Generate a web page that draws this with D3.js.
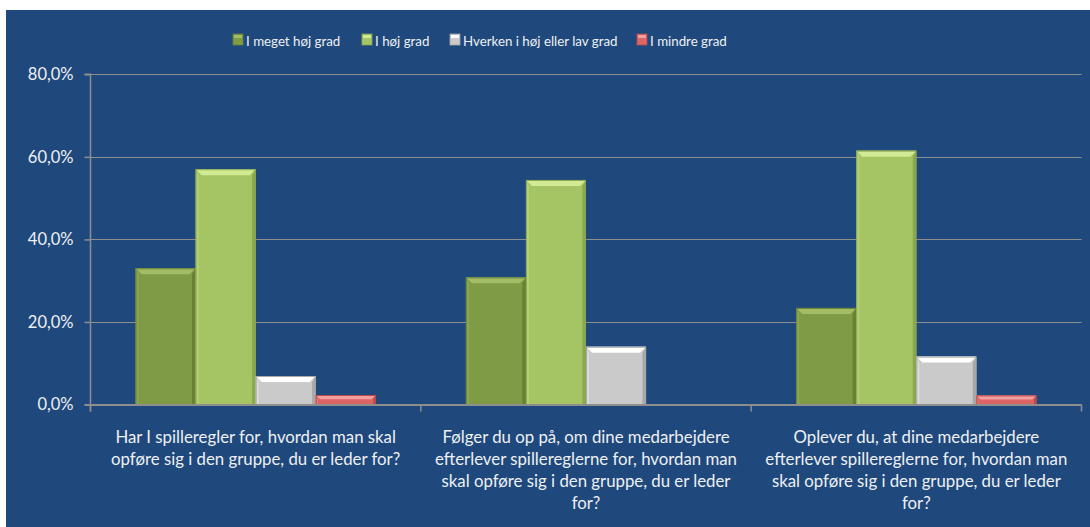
<!DOCTYPE html>
<html><head><meta charset="utf-8">
<script src="https://cdn.jsdelivr.net/npm/d3@7"></script>
<style>html,body{margin:0;padding:0;background:#fff;} svg{display:block;}</style>
</head><body>
<svg id="chart" width="1090" height="527"></svg>
<script>
const categories = [
  "Har I spilleregler for, hvordan man skal opføre sig i den gruppe, du er leder for?",
  "Følger du op på, om dine medarbejdere efterlever spillereglerne for, hvordan man skal opføre sig i den gruppe, du er leder for?",
  "Oplever du, at dine medarbejdere efterlever spillereglerne for, hvordan man skal opføre sig i den gruppe, du er leder for?"
];
const categoryLines = [
  ["Har I spilleregler for, hvordan man skal", "opføre sig i den gruppe, du er leder for?"],
  ["Følger du op på, om dine medarbejdere", "efterlever spillereglerne for, hvordan man", "skal opføre sig i den gruppe, du er leder", "for?"],
  ["Oplever du, at dine medarbejdere", "efterlever spillereglerne for, hvordan man", "skal opføre sig i den gruppe, du er leder", "for?"]
];
const seriesNames = ["I meget høj grad", "I høj grad", "Hverken i høj eller lav grad", "I mindre grad"];
const meget = [33.0, 30.8, 23.4];
const hoej = [57.0, 54.4, 61.5];
const hverken = [6.9, 14.0, 11.6];
const mindre = [2.3, 0, 2.2];
const yTicks = [0, 20, 40, 60, 80];

(function(){
const seriesValues = [meget, hoej, hverken, mindre];
const colors = [
  {base:"#809b45", light:"#a3bd67", dark:"#5f7430", edge:"#6a8136"},
  {base:"#a5c565", light:"#d2ea94", dark:"#7f9c45", edge:"#8aa74f"},
  {base:"#cacaca", light:"#ffffff", dark:"#9a9a9a", edge:"#a8a8a8"},
  {base:"#dd6565", light:"#f4a0a0", dark:"#a84040", edge:"#b94b4b"}
];

const svg = d3.select("#chart");
const W = 1090, H = 527;
svg.append("rect").attr("x",6).attr("y",10).attr("width",W-6).attr("height",H-10).attr("fill","#1f497d");

const pLeft = 90.5, pRight = 1081.5, pTop = 74.3, pBottom = 404.5;
const x0 = d3.scaleBand().domain(d3.range(categories.length)).range([pLeft, pRight]).paddingInner(0).paddingOuter(0);
const x1 = d3.scaleBand().domain(d3.range(seriesNames.length)).range([0, x0.bandwidth()]).paddingOuter(0.75).paddingInner(0);
const y = d3.scaleLinear().domain([0, 80]).range([pBottom, pTop]);

const fontFam = "Lato, 'Open Sans', sans-serif";
const textCol = "#eef0f3";

const grid = svg.append("g");
grid.selectAll("line").data(yTicks.filter(t=>t>0)).join("line")
  .attr("x1", pLeft).attr("x2", pRight)
  .attr("y1", d=>Math.round(y(d))+0.5).attr("y2", d=>Math.round(y(d))+0.5)
  .attr("stroke","#8e8e8e").attr("stroke-width",1.2);

const yAxis = svg.append("g").attr("transform",`translate(${pLeft},0)`)
  .call(d3.axisLeft(y).tickValues(yTicks).tickSize(6).tickPadding(11)
    .tickFormat(d=>d3.format(".1f")(d).replace(".",",")+"%"));
yAxis.select(".domain").attr("stroke","#8e8e8e").attr("stroke-width",1.5).attr("d",`M-6,${pTop}H0V${pBottom+7}`);
yAxis.selectAll(".tick line").attr("stroke","#8e8e8e").attr("stroke-width",1.5);
yAxis.selectAll(".tick text").attr("fill",textCol).attr("font-family",fontFam).attr("font-size",16.5);

const barsG = svg.append("g");
categories.forEach((c, ci) => {
  seriesValues.forEach((vals, si) => {
    const v = vals[ci];
    if (!v) return;
    const bx = x0(ci) + x1(si), bw = x1.bandwidth();
    const by = y(v), bh = y(0) - y(v);
    const col = colors[si];
    const g = barsG.append("g");
    const b = Math.min(6, bh/2.2);
    g.append("rect").attr("x",bx).attr("y",by).attr("width",bw).attr("height",bh).attr("fill",col.base);
    g.append("polygon").attr("points",`${bx+bw},${by} ${bx+bw},${by+bh} ${bx+bw-b*0.6},${by+bh} ${bx+bw-b*0.6},${by+b}`).attr("fill",col.dark).attr("opacity",0.7);
    g.append("polygon").attr("points",`${bx},${by} ${bx+b*0.5},${by+b} ${bx+b*0.5},${by+bh} ${bx},${by+bh}`).attr("fill",col.light).attr("opacity",0.35);
    g.append("polygon").attr("points",`${bx},${by} ${bx+bw},${by} ${bx+bw-b},${by+b} ${bx+b},${by+b}`).attr("fill",col.light);
    g.append("rect").attr("x",bx+0.5).attr("y",by+0.5).attr("width",bw-1).attr("height",bh).attr("fill","none").attr("stroke",col.edge).attr("stroke-width",1);
  });
});

const xg = svg.append("g");
xg.append("line").attr("x1",pLeft-6).attr("x2",pRight).attr("y1",pBottom+0.5).attr("y2",pBottom+0.5).attr("stroke","#8e8e8e").attr("stroke-width",2);
const tickXs = d3.range(categories.length+1).map(i => i < categories.length ? x0(i) : x0(i-1)+x0.bandwidth());
xg.selectAll("line.t").data(tickXs).join("line").attr("class","t")
  .attr("x1",d=>d).attr("x2",d=>d).attr("y1",pBottom).attr("y2",pBottom+7)
  .attr("stroke","#8e8e8e").attr("stroke-width",1.5);

categoryLines.forEach((lines, ci) => {
  const cx = x0(ci) + x0.bandwidth()/2;
  const t = svg.append("text").attr("text-anchor","middle").attr("fill",textCol)
    .attr("font-family",fontFam).attr("font-size",16.8);
  lines.forEach((ln, li) => {
    t.append("tspan").attr("x",cx).attr("y",443 + li*22).text(ln);
  });
});

const legendX = [233, 362, 450, 637];
const lg = svg.append("g");
seriesNames.forEach((name, i) => {
  const gx = legendX[i];
  const col = colors[i];
  lg.append("rect").attr("x",gx).attr("y",34).attr("width",10).attr("height",11).attr("fill",col.base).attr("stroke",col.edge).attr("stroke-width",0.8);
  lg.append("rect").attr("x",gx+1).attr("y",35).attr("width",8).attr("height",3).attr("fill",col.light);
  lg.append("text").attr("x",gx+13).attr("y",45.5).attr("fill",textCol)
    .attr("font-family",fontFam).attr("font-size",13.3).text(name);
});
})();
</script>
</body></html>
